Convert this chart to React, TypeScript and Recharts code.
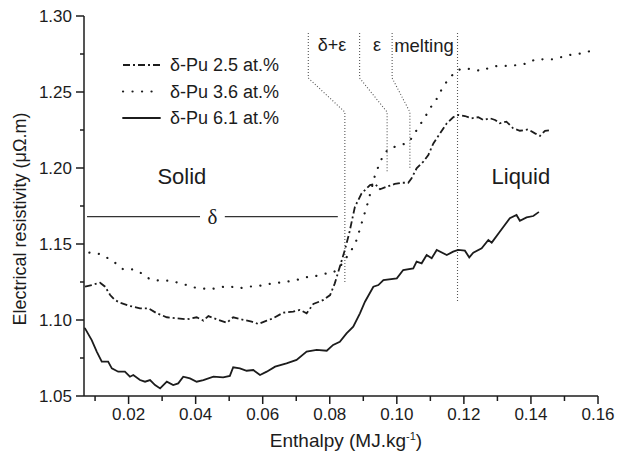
import React from 'react';
import { LineChart, Line, XAxis, YAxis, ReferenceLine, ReferenceDot, Legend } from 'recharts';

// ---- data (enthalpy MJ/kg, resistivity µΩ.m) ----
const pu25X = [0.0070,0.0090,0.0115,0.0130,0.0145,0.0159,0.0174,0.0204,0.0234,0.0259,0.0284,0.0314,0.0343,0.0373,0.0403,0.0423,0.0438,0.0463,0.0493,0.0512,0.0537,0.0567,0.0587,0.0612,0.0631,0.0661,0.0691,0.0711,0.0731,0.0751,0.0781,0.0801,0.0815,0.0830,0.0845,0.0858,0.0875,0.0895,0.0920,0.0935,0.0950,0.0970,0.0994,0.1014,0.1034,0.1044,0.1059,0.1079,0.1094,0.1109,0.1129,0.1149,0.1168,0.1183,0.1203,0.1223,0.1243,0.1258,0.1278,0.1293,0.1307,0.1327,0.1347,0.1367,0.1392,0.1412,0.1427,0.1442,0.1462];
const pu25Y = [1.1219,1.1230,1.1245,1.1219,1.1164,1.1132,1.1114,1.1092,1.1077,1.1077,1.1044,1.1018,1.1011,1.1004,1.1018,1.0996,1.1026,1.1004,1.0982,1.1018,1.1004,1.0989,1.0974,1.0996,1.1011,1.1048,1.1055,1.1066,1.1044,1.1105,1.1132,1.1164,1.1241,1.1350,1.1461,1.1571,1.1745,1.1833,1.1888,1.1895,1.1860,1.1877,1.1895,1.1903,1.1903,1.1932,1.1998,1.2042,1.2086,1.2162,1.2228,1.2294,1.2334,1.2349,1.2342,1.2327,1.2334,1.2316,1.2327,1.2316,1.2294,1.2305,1.2261,1.2245,1.2254,1.2228,1.2211,1.2245,1.2250];

const pu36X = [0.0083,0.0115,0.0139,0.0162,0.0184,0.0214,0.0239,0.0264,0.0294,0.0323,0.0363,0.0393,0.0418,0.0443,0.0473,0.0497,0.0527,0.0557,0.0587,0.0617,0.0646,0.0671,0.0701,0.0726,0.0751,0.0781,0.0810,0.0830,0.0848,0.0865,0.0880,0.0913,0.0935,0.0948,0.0960,0.0977,0.1004,0.1034,0.1049,0.1064,0.1084,0.1099,0.1117,0.1134,0.1153,0.1178,0.1198,0.1228,0.1253,0.1278,0.1303,0.1332,0.1362,0.1392,0.1412,0.1442,0.1471,0.1501,0.1531,0.1556,0.1586];
const pu36Y = [1.1443,1.1434,1.1406,1.1373,1.1333,1.1333,1.1307,1.1268,1.1259,1.1259,1.1237,1.1215,1.1208,1.1202,1.1215,1.1224,1.1208,1.1219,1.1224,1.1237,1.1245,1.1252,1.1263,1.1281,1.1285,1.1303,1.1311,1.1350,1.1406,1.1461,1.1526,1.1768,1.1954,1.2026,1.2086,1.2130,1.2145,1.2167,1.2211,1.2268,1.2334,1.2393,1.2447,1.2518,1.2583,1.2640,1.2656,1.2649,1.2638,1.2662,1.2673,1.2671,1.2678,1.2689,1.2715,1.2715,1.2715,1.2737,1.2750,1.2755,1.2776];

const pu61X = [0.0070,0.0090,0.0105,0.0120,0.0139,0.0150,0.0169,0.0189,0.0204,0.0214,0.0234,0.0249,0.0264,0.0279,0.0294,0.0314,0.0333,0.0348,0.0363,0.0383,0.0403,0.0423,0.0453,0.0482,0.0502,0.0512,0.0532,0.0552,0.0572,0.0592,0.0612,0.0637,0.0671,0.0701,0.0731,0.0761,0.0791,0.0810,0.0830,0.0850,0.0870,0.0890,0.0905,0.0930,0.0945,0.0960,0.1000,0.1019,0.1049,0.1059,0.1074,0.1089,0.1104,0.1119,0.1149,0.1168,0.1183,0.1203,0.1216,0.1228,0.1253,0.1273,0.1283,0.1307,0.1337,0.1357,0.1367,0.1387,0.1407,0.1422];
const pu61Y = [1.0945,1.0868,1.0792,1.0726,1.0726,1.0682,1.0660,1.0660,1.0627,1.0638,1.0605,1.0594,1.0605,1.0572,1.0550,1.0594,1.0572,1.0583,1.0627,1.0616,1.0594,1.0605,1.0627,1.0623,1.0632,1.0689,1.0682,1.0666,1.0671,1.0638,1.0660,1.0693,1.0715,1.0737,1.0792,1.0803,1.0798,1.0836,1.0857,1.0912,1.0956,1.1044,1.1120,1.1219,1.1230,1.1263,1.1274,1.1329,1.1340,1.1384,1.1373,1.1428,1.1406,1.1461,1.1428,1.1450,1.1461,1.1456,1.1412,1.1443,1.1471,1.1526,1.1509,1.1581,1.1669,1.1691,1.1653,1.1675,1.1684,1.1708];

// phase-boundary annotation paths (enthalpy, resistivity)
const deltaEpsX = [0.0736, 0.0736, 0.0845, 0.0845];
const deltaEpsY = [1.2888, 1.2592, 1.2368, 1.1243];
const epsX = [0.0889, 0.0889, 0.0971, 0.0971];
const epsY = [1.2888, 1.2592, 1.2368, 1.1965];
const meltStartX = [0.0986, 0.0986, 0.1039, 0.1039];
const meltStartY = [1.2888, 1.2592, 1.2368, 1.1998];
const meltEndX = [0.1181, 0.1181];
const meltEndY = [1.2888, 1.1120];

const xMajorTicks = [0.02, 0.04, 0.06, 0.08, 0.10, 0.12, 0.14, 0.16];
const xMinorTicks = [0.01, 0.03, 0.05, 0.07, 0.09, 0.11, 0.13, 0.15];
const yMajorTicks = [1.05, 1.10, 1.15, 1.20, 1.25, 1.30];
const yMinorTicks = [1.075, 1.125, 1.175, 1.225, 1.275];

const seriesNames = ['δ-Pu 2.5 at.%', 'δ-Pu 3.6 at.%', 'δ-Pu 6.1 at.%'];
const phaseLabels = ['δ+ε', 'ε', 'melting'];

const toPoints = (xs: number[], ys: number[]) => xs.map((x, i) => ({ x, y: ys[i] }));

const FONT = '"Liberation Sans", Arial, Helvetica, sans-serif';
const INK = '#1c1c1c';
const GUIDE = '#555';

const xTicks = [...xMajorTicks, ...xMinorTicks].sort((a, b) => a - b);
const yTicks = [...yMajorTicks, ...yMinorTicks].sort((a, b) => a - b);

const series = [
  { name: seriesNames[0], data: toPoints(pu25X, pu25Y), dash: '7 3 2 3', width: 1.8, cap: 'butt' },
  { name: seriesNames[1], data: toPoints(pu36X, pu36Y), dash: '0.1 9.4', width: 2.2, cap: 'round' },
  { name: seriesNames[2], data: toPoints(pu61X, pu61Y), dash: undefined as string | undefined, width: 1.8, cap: 'round' },
];

const guides = [
  toPoints(deltaEpsX, deltaEpsY),
  toPoints(epsX, epsY),
  toPoints(meltStartX, meltStartY),
  toPoints(meltEndX, meltEndY),
];

function BottomTick(props: any) {
  const { x, y, payload } = props;
  const v = payload.value;
  const major = xMajorTicks.includes(v);
  return (
    <g>
      <line x1={x} x2={x} y1={y} y2={y + (major ? 8 : 5)} stroke={INK} strokeWidth={1.5} />
      {major && (
        <text x={x} y={y + 24} textAnchor="middle" fontSize={17} fill={INK} fontFamily={FONT}>
          {v.toFixed(2)}
        </text>
      )}
    </g>
  );
}

function TopTick(props: any) {
  const { x, y, payload } = props;
  const major = xMajorTicks.includes(payload.value);
  return <line x1={x} x2={x} y1={y} y2={y + (major ? 8 : 4)} stroke={INK} strokeWidth={1.5} />;
}

function LeftTick(props: any) {
  const { x, y, payload } = props;
  const v = payload.value;
  const major = yMajorTicks.includes(v);
  return (
    <g>
      <line x1={x} x2={x - (major ? 8 : 4)} y1={y} y2={y} stroke={INK} strokeWidth={1.5} />
      {major && (
        <text x={x - 12} y={y} dy="0.36em" textAnchor="end" fontSize={17} fill={INK} fontFamily={FONT}>
          {v.toFixed(2)}
        </text>
      )}
    </g>
  );
}

function RightTick(props: any) {
  const { x, y, payload } = props;
  const major = yMajorTicks.includes(payload.value);
  return <line x1={x} x2={x - (major ? 8 : 5)} y1={y} y2={y} stroke={INK} strokeWidth={1.5} />;
}

function LegendBox() {
  return (
    <svg width={220} height={80} style={{ overflow: 'visible' }}>
      {series.map((s, i) => {
        const cy = 13 + i * 26.5;
        return (
          <g key={s.name}>
            <line x1={4} x2={41} y1={cy} y2={cy} stroke={INK} strokeWidth={s.width} strokeDasharray={s.dash} strokeLinecap={s.cap as any} />
            <text x={51} y={cy} dy="0.36em" fontSize={18} fill={INK} fontFamily={FONT}>
              {s.name}
            </text>
          </g>
        );
      })}
    </svg>
  );
}

export default function App() {
  return (
    <div style={{ position: 'absolute', left: 0, top: 0, width: 617, height: 458, background: '#fff' }}>
      <LineChart width={617} height={458} margin={{ top: 16, right: 19, bottom: 0, left: 0 }}>
        <XAxis
          xAxisId="top"
          orientation="top"
          type="number"
          dataKey="x"
          domain={[0.0067, 0.16]}
          ticks={xTicks}
          interval={0}
          height={0}
          tickSize={0}
          tickMargin={0}
          tickLine={false}
          tick={<TopTick />}
          axisLine={{ stroke: INK, strokeWidth: 1.5 }}
        />
        <XAxis
          type="number"
          dataKey="x"
          domain={[0.0067, 0.16]}
          ticks={xTicks}
          interval={0}
          height={62}
          tickSize={0}
          tickMargin={0}
          tickLine={false}
          tick={<BottomTick />}
          axisLine={{ stroke: INK, strokeWidth: 1.5 }}
          label={{
            content: (p: any) => {
              const vb = p.viewBox;
              return (
                <text x={vb.x + vb.width / 2 + 5} y={vb.y + 51} textAnchor="middle" fontSize={19} fill={INK} fontFamily={FONT}>
                  Enthalpy (MJ.kg
                  <tspan dy={-7} fontSize={11}>-1</tspan>
                  <tspan dy={7}>)</tspan>
                </text>
              );
            },
          }}
        />
        <YAxis
          type="number"
          domain={[1.05, 1.3]}
          ticks={yTicks}
          interval={0}
          width={84}
          tickSize={0}
          tickMargin={0}
          tickLine={false}
          tick={<LeftTick />}
          axisLine={{ stroke: INK, strokeWidth: 1.5 }}
          label={{
            content: (p: any) => {
              const vb = p.viewBox;
              const cx = vb.x + 20;
              const cy = vb.y + vb.height / 2 + 13;
              return (
                <text x={cx} y={cy} transform={`rotate(-90 ${cx} ${cy})`} dy="0.36em" textAnchor="middle" fontSize={18} fill={INK} fontFamily={FONT}>
                  Electrical resistivity (μΩ.m)
                </text>
              );
            },
          }}
        />
        <YAxis
          yAxisId="right"
          orientation="right"
          type="number"
          domain={[1.05, 1.3]}
          ticks={yTicks}
          interval={0}
          width={0}
          tickSize={0}
          tickMargin={0}
          tickLine={false}
          tick={<RightTick />}
          axisLine={{ stroke: INK, strokeWidth: 1.5 }}
        />

        {guides.map((g, i) => (
          <Line
            key={'g' + i}
            data={g}
            dataKey="y"
            type="linear"
            stroke={GUIDE}
            strokeWidth={1.1}
            strokeDasharray="1 2"
            dot={false}
            activeDot={false}
            legendType="none"
            isAnimationActive={false}
          />
        ))}

        {series.map((s) => (
          <Line
            key={s.name}
            name={s.name}
            data={s.data}
            dataKey="y"
            type="linear"
            stroke={INK}
            strokeWidth={s.width}
            strokeDasharray={s.dash}
            strokeLinecap={s.cap as any}
            dot={false}
            activeDot={false}
            isAnimationActive={false}
          />
        ))}

        <ReferenceLine segment={[{ x: 0.0076, y: 1.168 }, { x: 0.0413, y: 1.168 }]} stroke="#333" strokeWidth={1.2} />
        <ReferenceLine segment={[{ x: 0.0487, y: 1.168 }, { x: 0.0824, y: 1.168 }]} stroke="#333" strokeWidth={1.2} />

        <ReferenceDot x={0.0450} y={1.168} r={0} stroke="none" fill="none"
          label={{ value: 'δ', position: 'center', fontSize: 21, fill: INK, fontFamily: '"Liberation Serif", serif' }} />
        <ReferenceDot x={0.0359} y={1.1944} r={0} stroke="none" fill="none"
          label={{ value: 'Solid', position: 'center', fontSize: 22, fill: INK, fontFamily: FONT }} />
        <ReferenceDot x={0.1370} y={1.1943} r={0} stroke="none" fill="none"
          label={{ value: 'Liquid', position: 'center', fontSize: 22, fill: INK, fontFamily: FONT }} />
        <ReferenceDot x={0.0807} y={1.2809} r={0} stroke="none" fill="none"
          label={{ value: phaseLabels[0], position: 'center', fontSize: 18, fill: INK, fontFamily: FONT }} />
        <ReferenceDot x={0.0941} y={1.2809} r={0} stroke="none" fill="none"
          label={{ value: phaseLabels[1], position: 'center', fontSize: 18, fill: INK, fontFamily: FONT }} />
        <ReferenceDot x={0.1081} y={1.2809} r={0} stroke="none" fill="none"
          label={{ value: phaseLabels[2], position: 'center', fontSize: 18.5, fill: INK, fontFamily: FONT }} />

        <Legend
          layout="vertical"
          align="center"
          verticalAlign="middle"
          content={() => <LegendBox />}
          wrapperStyle={{ position: 'absolute', left: 119, top: 52, width: 220, height: 80 }}
        />
      </LineChart>
    </div>
  );
}
